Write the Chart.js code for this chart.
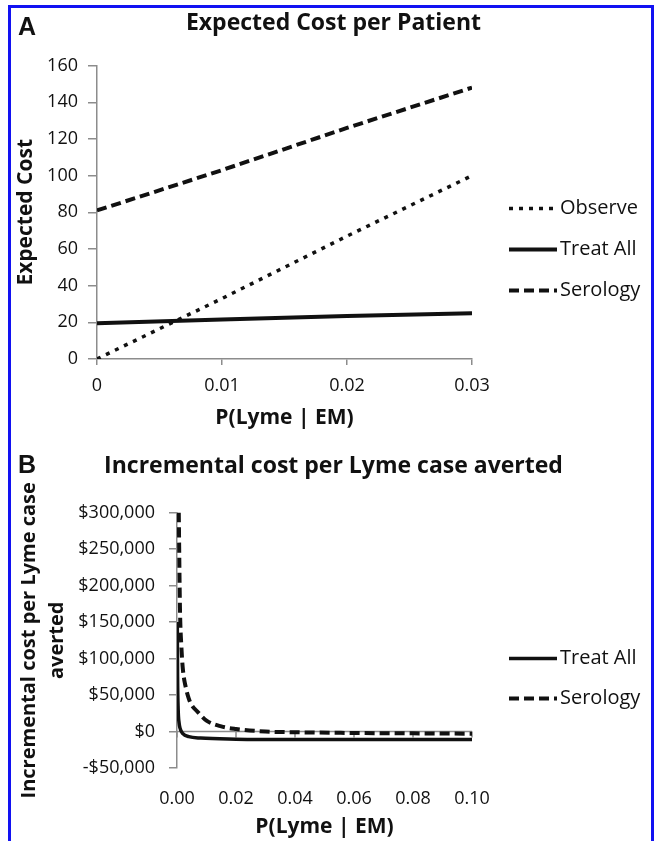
<!DOCTYPE html>
<html>
<head>
<meta charset="utf-8">
<script src="https://cdn.jsdelivr.net/npm/chart.js@4.4.1/dist/chart.umd.min.js"></script>
<style>
  body { margin: 0; background: #fff; width: 657px; height: 841px; position: relative; overflow: hidden; }
  #frame { position: absolute; left: 8px; top: 5px; width: 640px; height: 860px; border: 3px solid #1212f2; border-bottom: none; }
  canvas { position: absolute; left: 0; }
  #chartA { top: 0; }
  #chartB { top: 432px; }
  .panel { position: absolute; left: 18px; font: bold 25px 'Liberation Sans', Arial, sans-serif; line-height: 1; color: #111; }
</style>
</head>
<body>
<div id="frame"></div>
<canvas id="chartA" width="657" height="432"></canvas>
<canvas id="chartB" width="657" height="409"></canvas>
<div class="panel" style="top:14px">A</div>
<div class="panel" style="top:452px">B</div>
<script>
// Panel A: expected cost per patient
var probA = [0, 0.01, 0.02, 0.03];
var observeCost = [0, 33, 67, 100];
var treatAllCost = [19.5, 21.5, 23.5, 25];
var serologyCost = [81, 103, 126, 148];
var ticksA = [0, 20, 40, 60, 80, 100, 120, 140, 160];

// Panel B: incremental cost per Lyme case averted
var probTreat = [0.0001, 0.0002, 0.0004, 0.0007, 0.001, 0.002, 0.004, 0.008, 0.02, 0.04, 0.06, 0.08, 0.1];
var icerTreat = [150000, 75000, 30000, 12000, 5000, -3000, -7000, -9000, -10500, -11000, -11000, -11000, -11000];
var probSero = [0.0006, 0.001, 0.0015, 0.002, 0.003, 0.004, 0.005, 0.007, 0.01, 0.015, 0.02, 0.03, 0.04, 0.06, 0.08, 0.1];
var icerSero = [300000, 170000, 115000, 85000, 60000, 45000, 36000, 27000, 15000, 7000, 3500, 0, -1000, -2000, -2500, -3000];

Chart.defaults.font.family = "'Open Sans', sans-serif";
Chart.defaults.color = '#111';

var axisGray = '#8c8c8c';
var ink = '#111';

function pts(xs, ys) {
  return xs.map(function (x, i) { return { x: x, y: ys[i] }; });
}

// legend drawn to the right of the plot, line sample + label
var sideLegend = {
  id: 'sideLegend',
  afterDraw: function (chart, args, opts) {
    var ctx = chart.ctx, area = chart.chartArea;
    ctx.save();
    ctx.font = "20px 'Open Sans', sans-serif";
    ctx.textBaseline = 'middle';
    ctx.fillStyle = ink;
    chart.data.datasets.forEach(function (ds, i) {
      var x = area.right + opts.left;
      var y = area.top + opts.top + i * opts.gap;
      ctx.beginPath();
      ctx.setLineDash(ds.borderDash || []);
      ctx.lineWidth = ds.borderWidth;
      ctx.strokeStyle = ds.borderColor;
      ctx.moveTo(x, y);
      ctx.lineTo(x + 48, y);
      ctx.stroke();
      ctx.setLineDash([]);
      ctx.fillText(ds.label, x + 51, y);
    });
    ctx.restore();
  }
};

// gray line at $0 with the x tick marks on it
var zeroAxis = {
  id: 'zeroAxis',
  beforeDatasetsDraw: function (chart) {
    var ctx = chart.ctx, xs = chart.scales.x, ys = chart.scales.y;
    var y0 = ys.getPixelForValue(0);
    ctx.save();
    ctx.strokeStyle = axisGray;
    ctx.lineWidth = 1.5;
    ctx.beginPath();
    ctx.moveTo(xs.left, y0);
    ctx.lineTo(xs.right, y0);
    xs.ticks.forEach(function (t) {
      var px = xs.getPixelForValue(t.value);
      ctx.moveTo(px, y0);
      ctx.lineTo(px, y0 + 6);
    });
    ctx.stroke();
    ctx.restore();
  }
};

// empty right-hand axis that keeps room for the legend
var spacer = {
  position: 'right',
  display: true,
  ticks: { display: false },
  grid: { display: false, drawTicks: false },
  border: { display: false },
  afterFit: function (s) { s.width = 185; }
};

var chartA = new Chart(document.getElementById('chartA'), {
  type: 'line',
  data: {
    datasets: [{
      label: 'Observe',
      data: pts(probA, observeCost),
      borderColor: ink,
      borderWidth: 3.5,
      borderDash: [4, 6],
      pointRadius: 0
    }, {
      label: 'Treat All',
      data: pts(probA, treatAllCost),
      borderColor: ink,
      borderWidth: 4,
      pointRadius: 0
    }, {
      label: 'Serology',
      data: pts(probA, serologyCost),
      borderColor: ink,
      borderWidth: 4,
      borderDash: [10, 5],
      pointRadius: 0
    }]
  },
  options: {
    responsive: false,
    animation: false,
    devicePixelRatio: 1,
    layout: { padding: { left: 10, right: 0, top: 0, bottom: 0 } },
    plugins: {
      legend: { display: false },
      tooltip: { enabled: false },
      title: {
        display: true,
        text: 'Expected Cost per Patient',
        color: ink,
        font: { size: 23, weight: 'bold' },
        padding: { top: 10, bottom: 28 }
      },
      sideLegend: { left: 37, top: 143, gap: 41 }
    },
    scales: {
      x: {
        type: 'linear',
        min: 0,
        max: 0.03,
        ticks: { stepSize: 0.01, font: { size: 18 }, color: ink, padding: 10 },
        grid: { drawOnChartArea: false, color: axisGray, tickLength: 6, lineWidth: 1.5 },
        border: { color: axisGray, width: 1.5 },
        title: { display: true, text: 'P(Lyme | EM)', color: ink, font: { size: 21, weight: 'bold' }, padding: { top: 0, bottom: 1 } },
        afterFit: function (s) { s.height = 73; }
      },
      y: {
        min: 0,
        max: 160,
        afterBuildTicks: function (s) { s.ticks = ticksA.map(function (v) { return { value: v }; }); },
        ticks: { font: { size: 18 }, color: ink, padding: 10 },
        grid: { drawOnChartArea: false, color: axisGray, tickLength: 9, lineWidth: 1.5 },
        border: { color: axisGray, width: 1.5 },
        title: { display: true, text: 'Expected Cost', color: ink, font: { size: 21, weight: 'bold' }, padding: { top: 3, bottom: 0 } },
        afterFit: function (s) { s.width = 87; }
      },
      room: spacer
    }
  },
  plugins: [sideLegend]
});

var chartB = new Chart(document.getElementById('chartB'), {
  type: 'line',
  data: {
    datasets: [{
      label: 'Treat All',
      data: pts(probTreat, icerTreat),
      borderColor: ink,
      borderWidth: 3.5,
      cubicInterpolationMode: 'monotone',
      pointRadius: 0
    }, {
      label: 'Serology',
      data: pts(probSero, icerSero),
      borderColor: ink,
      borderWidth: 4,
      borderDash: [10, 5],
      cubicInterpolationMode: 'monotone',
      pointRadius: 0
    }]
  },
  options: {
    responsive: false,
    animation: false,
    devicePixelRatio: 1,
    layout: { padding: { left: 10, right: 0, top: 0, bottom: 0 } },
    plugins: {
      legend: { display: false },
      tooltip: { enabled: false },
      title: {
        display: true,
        text: 'Incremental cost per Lyme case averted',
        color: ink,
        font: { size: 23, weight: 'bold' },
        padding: { top: 21, bottom: 32 }
      },
      sideLegend: { left: 37, top: 146, gap: 40 }
    },
    scales: {
      x: {
        type: 'linear',
        min: 0,
        max: 0.1,
        ticks: {
          stepSize: 0.02,
          font: { size: 18 },
          color: ink,
          padding: 20,
          callback: function (v) { return v.toFixed(2); }
        },
        grid: { display: false, drawTicks: false },
        border: { display: false },
        title: { display: true, text: 'P(Lyme | EM)', color: ink, font: { size: 21, weight: 'bold' }, padding: { top: 0, bottom: 1 } },
        afterFit: function (s) { s.height = 73; }
      },
      y: {
        min: -50000,
        max: 300000,
        ticks: {
          stepSize: 50000,
          font: { size: 18 },
          color: ink,
          padding: 14,
          callback: function (v) {
            var s = '$' + Math.abs(v).toLocaleString('en-US');
            return v < 0 ? '-' + s : s;
          }
        },
        grid: { drawOnChartArea: false, color: axisGray, tickColor: axisGray, tickLength: 8, lineWidth: 1.5 },
        border: { color: axisGray, width: 1.5 },
        title: {
          display: true,
          text: ['Incremental cost per Lyme case', 'averted'],
          color: ink,
          font: { size: 20, weight: 'bold', lineHeight: 1.4 },
          padding: { top: 5, bottom: 0 }
        },
        afterFit: function (s) { s.width = 167; }
      },
      room: spacer
    }
  },
  plugins: [zeroAxis, sideLegend]
});
</script>
</body>
</html>
